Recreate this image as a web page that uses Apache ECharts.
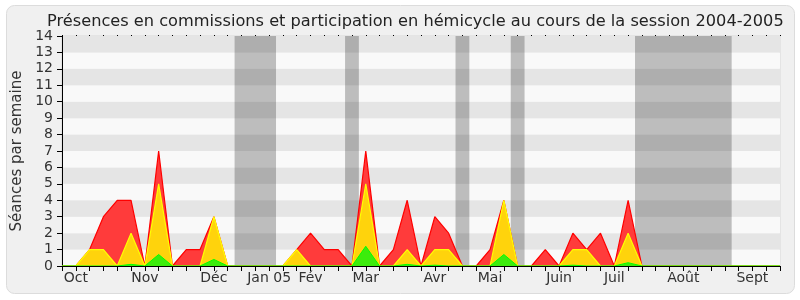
<!DOCTYPE html>
<html><head><meta charset="utf-8">
<script src="https://cdn.jsdelivr.net/npm/echarts@6/dist/echarts.min.js"></script>
<style>html,body{margin:0;padding:0;background:#fff}#c{width:800px;height:300px}</style>
</head><body><div id="c"></div>
<script>
// Week index 0..52
const weeks = Array.from({length: 53}, (_, i) => i);
const monthLabels = {1:'Oct',6:'Nov',11:'Déc',15:'Jan 05',18:'Fév',22:'Mar',27:'Avr',31:'Mai',36:'Juin',40:'Juil',45:'Août',50:'Sept'};
const total =      [0,0,1,3,4,4,0,7,0,1,1,3,0,0,0,0,0,1,2,1,1,0,7,0,1,4,0,3,2,0,0,1,4,0,0,1,0,2,1,2,0,4,0,0,0,0,0,0,0,0,0,0,0];
const hemicycle =  [0,0,1,1,0,2,0,5,0,0,0,3,0,0,0,0,0,1,0,0,0,0,5,0,0,1,0,1,1,0,0,0,4,0,0,0,0,1,1,0,0,2,0,0,0,0,0,0,0,0,0,0,0];
const interv =     [0,0,0,0,0,0.1,0,0.7,0,0,0,0.4,0,0,0,0,0,0,0,0,0,0,1.2,0,0,0.1,0,0.05,0,0,0,0,0.7,0,0,0,0,0.05,0,0,0,0.2,0,0,0,0,0,0,0,0,0,0,0];
const holidays = [[12.5,15.5],[20.5,21.5],[28.5,29.5],[32.5,33.5],[41.5,48.5]];

const font = 'DejaVu Sans';
const pairs = arr => weeks.map(i => [i, arr[i]]);
const chart = echarts.init(document.getElementById('c'), null, {renderer:'canvas'});
chart.setOption({
  animation:false,
  backgroundColor:'#ffffff',
  graphic:[{type:'rect', z:-10, shape:{x:6.5,y:5.5,width:788,height:288,r:8},
    style:{fill:'#f0f0f0', stroke:'#dcdcdc', lineWidth:1}}],
  title:{text:'Présences en commissions et participation en hémicycle au cours de la session 2004-2005',
    left:42, top:9, textStyle:{fontFamily:font, fontSize:16.2, fontWeight:'normal', color:'#222'}},
  grid:{left:62, right:20, top:36, bottom:34, show:true, borderColor:'#d8d8d8', borderWidth:1, backgroundColor:'transparent'},
  xAxis:[{type:'value', min:0, max:52, interval:1, z:20,
    axisLine:{lineStyle:{color:'#000', width:1}},
    axisTick:{length:5, lineStyle:{color:'#000'}},
    axisLabel:{interval:0, margin:5, fontFamily:font, fontSize:14, color:'#333',
      formatter:v => monthLabels[v] || '', showMinLabel:true, showMaxLabel:true},
    splitLine:{show:false}},
   {type:'value', position:'top', min:0, max:52, interval:1,
    axisLine:{show:false}, axisTick:{length:1, lineStyle:{color:'#000'}},
    axisLabel:{show:false}, splitLine:{show:false}}],
  yAxis:{type:'value', min:0, max:14, interval:1,
    name:'Séances par semaine', nameLocation:'middle', nameGap:36,
    nameTextStyle:{fontFamily:font, fontSize:15, color:'#333'},
    axisLine:{show:true, lineStyle:{color:'#000'}},
    axisTick:{show:true, length:5, lineStyle:{color:'#000'}},
    axisLabel:{margin:9, fontFamily:font, fontSize:14, color:'#333'},
    splitLine:{show:false},
    splitArea:{show:true, areaStyle:{color:['#f9f9f9','#e5e5e5']}}},
  series:[
    {name:'total', type:'line', data:pairs(total), symbol:'none', z:3,
     lineStyle:{color:'#ff0000', width:1.2}, areaStyle:{color:'#ff3b3b', opacity:1},
     markArea:{silent:true, itemStyle:{color:'rgba(0,0,0,0.24)'},
       data:holidays.map(h => [{xAxis:h[0]},{xAxis:h[1]}])}},
    {name:'hemicycle', type:'line', data:pairs(hemicycle), symbol:'none', z:4,
     lineStyle:{color:'#ffff00', width:1.2}, areaStyle:{color:'#ffd30c', opacity:1}},
    {name:'interventions', type:'line', data:pairs(interv), symbol:'none', z:5,
     lineStyle:{color:'#00ff00', width:1}, areaStyle:{color:'#3cec0c', opacity:1}}
  ]
});
</script></body></html>
